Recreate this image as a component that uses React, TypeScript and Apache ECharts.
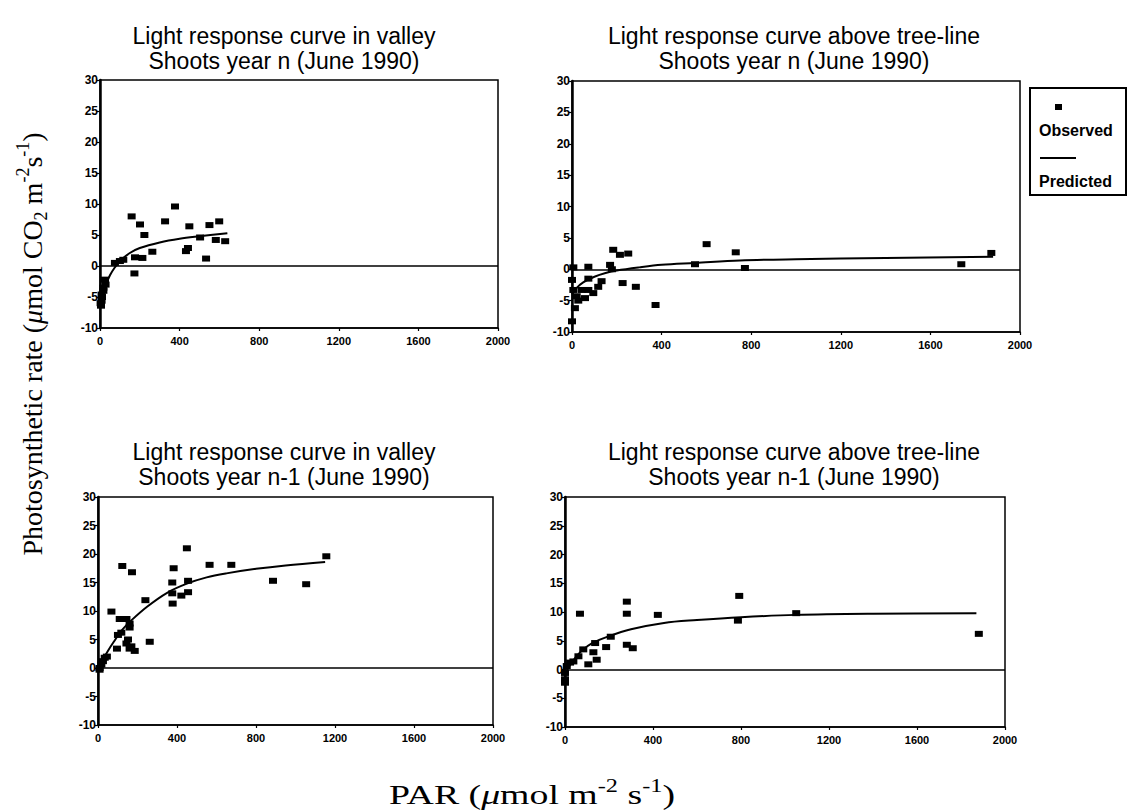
import React, { useEffect, useRef } from "react";
import * as echarts from "echarts";

// ---- Data ----
const xTickValues = [0, 400, 800, 1200, 1600, 2000];
const yTickValues = [-10, -5, 0, 5, 10, 15, 20, 25, 30];

const panelTitles = [
  "Light response curve in valley\nShoots year n (June 1990)",
  "Light response curve above tree-line\nShoots year n (June 1990)",
  "Light response curve in valley\nShoots year n-1 (June 1990)",
  "Light response curve above tree-line\nShoots year n-1 (June 1990)",
];

const valleyN_obs: [number, number][] = [
  [159, 8.0], [201, 6.7], [223, 5.0], [377, 9.6], [327, 7.2], [449, 6.4], [550, 6.6], [599, 7.2],
  [503, 4.6], [582, 4.2], [629, 4.0], [263, 2.3], [432, 2.4], [442, 2.9], [533, 1.2], [176, 1.4],
  [213, 1.3], [173, -1.2], [117, 1.0], [100, 0.8], [75, 0.5], [28, -3.0], [25, -2.2], [17, -3.5],
  [17, -4.0], [8, -4.6], [8, -5.6], [5, -6.4], [10, -5.0], [3, -6.0],
];
const valleyN_pred: [number, number][] = [
  [0, -6.5], [10, -5.0], [25, -3.4], [50, -1.5], [75, -0.2], [100, 0.8], [150, 2.1], [200, 2.9],
  [300, 3.8], [400, 4.4], [500, 4.8], [640, 5.3],
];

const treeN_obs: [number, number][] = [
  [601, 4.0], [731, 2.7], [772, 0.2], [549, 0.8], [1738, 0.8], [1872, 2.6], [184, 3.1], [214, 2.3],
  [251, 2.5], [170, 0.7], [178, 0.0], [73, 0.4], [6, 0.3], [226, -2.2], [285, -2.8], [373, -5.7],
  [0, -1.7], [6, -3.3], [21, -4.3], [43, -3.3], [58, -4.6], [73, -3.3], [73, -1.5], [117, -2.8],
  [132, -1.9], [95, -3.8], [13, -6.2], [0, -8.3], [28, -5.0],
];
const treeN_pred: [number, number][] = [
  [0, -4.0], [20, -3.0], [50, -2.1], [100, -1.2], [150, -0.6], [200, -0.2], [300, 0.3], [400, 0.7],
  [550, 1.0], [750, 1.4], [1000, 1.6], [1400, 1.8], [1880, 2.0],
];

const valleyN1_obs: [number, number][] = [
  [1156, 19.6], [1054, 14.7], [886, 15.3], [675, 18.1], [565, 18.1], [450, 21.0], [383, 17.5],
  [376, 15.0], [376, 13.1], [378, 11.3], [422, 12.7], [456, 13.3], [456, 15.3], [240, 11.9],
  [262, 4.6], [123, 17.9], [172, 16.8], [68, 9.9], [96, 3.4], [110, 8.6], [144, 8.6], [160, 7.8],
  [160, 7.1], [101, 5.8], [118, 6.2], [144, 4.3], [160, 3.4], [186, 3.0], [169, 3.8], [152, 5.0],
  [8, 0.0], [17, 0.6], [25, 1.2], [34, 1.8], [8, -0.3], [45, 2.0],
];
const valleyN1_pred: [number, number][] = [
  [0, -0.3], [25, 1.5], [50, 3.0], [80, 4.6], [120, 6.6], [170, 8.4], [250, 10.8], [350, 13.2],
  [450, 14.8], [550, 15.9], [650, 16.6], [800, 17.4], [950, 18.0], [1150, 18.6],
];

const treeN1_obs: [number, number][] = [
  [68, 9.7], [281, 11.8], [281, 9.7], [422, 9.5], [792, 12.8], [786, 8.5], [1051, 9.8], [1881, 6.2],
  [281, 4.3], [308, 3.7], [208, 5.7], [187, 3.9], [137, 4.6], [129, 3.0], [144, 1.7], [106, 0.9],
  [83, 3.5], [61, 2.3], [38, 1.4], [23, 1.2], [8, 0.6], [0, -0.6], [0, -1.7], [0, -2.3],
];
const treeN1_pred: [number, number][] = [
  [0, -1.0], [20, 0.6], [50, 2.2], [80, 3.4], [120, 4.5], [200, 5.8], [300, 7.0], [450, 8.1],
  [600, 8.6], [800, 9.1], [1050, 9.5], [1400, 9.7], [1870, 9.8],
];

const observedSets = [valleyN_obs, treeN_obs, valleyN1_obs, treeN1_obs];
const predictedSets = [valleyN_pred, treeN_pred, valleyN1_pred, treeN1_pred];

const legendLabels = ["Observed", "Predicted"];
const yAxisTitle = "Photosynthetic rate (μmol CO2 m-2s-1)";
const xAxisTitle = "PAR (μmol m-2 s-1)";

// ---- Layout ----
const gridBoxes = [
  { left: 100, top: 80, width: 398, height: 248 },
  { left: 572, top: 81, width: 448, height: 251 },
  { left: 98, top: 497, width: 395, height: 228 },
  { left: 565, top: 497, width: 440, height: 230 },
];
const titlePos = [
  { x: 284, y: 23 },
  { x: 794, y: 23 },
  { x: 284, y: 439 },
  { x: 794, y: 439 },
];

const SANS = "'Liberation Sans', Arial, Helvetica, sans-serif";
const SERIF = "'Liberation Serif', 'Times New Roman', serif";

export default function App() {
  const ref = useRef<HTMLDivElement>(null);

  useEffect(() => {
    if (!ref.current) return;
    const chart = echarts.init(ref.current, undefined, { renderer: "svg" });

    const xMin = xTickValues[0];
    const xMax = xTickValues[xTickValues.length - 1];
    const yMin = yTickValues[0];
    const yMax = yTickValues[yTickValues.length - 1];

    const grid = gridBoxes.map((g) => ({
      ...g,
      show: true,
      borderColor: "#000",
      borderWidth: 1.5,
      backgroundColor: "transparent",
      containLabel: false,
    }));

    const xAxis = gridBoxes.map((_, i) => ({
      type: "value" as const,
      gridIndex: i,
      min: xMin,
      max: xMax,
      interval: xTickValues[1] - xTickValues[0],
      axisLine: { show: true, onZero: false, lineStyle: { color: "#000", width: 1.5 } },
      axisTick: { show: true, length: 3, lineStyle: { color: "#000", width: 1.2 } },
      splitLine: { show: false },
      axisLabel: {
        color: "#000",
        fontFamily: SANS,
        fontWeight: "bold" as const,
        fontSize: 11,
        margin: 7,
        formatter: (v: number) => String(v),
      },
    }));

    const yAxis = gridBoxes.map((_, i) => ({
      type: "value" as const,
      gridIndex: i,
      min: yMin,
      max: yMax,
      interval: yTickValues[1] - yTickValues[0],
      axisLine: { show: true, onZero: false, lineStyle: { color: "#000", width: 2.5 } },
      axisTick: { show: true, length: 3, lineStyle: { color: "#000", width: 1.2 } },
      splitLine: { show: false },
      axisLabel: {
        color: "#000",
        fontFamily: SANS,
        fontWeight: "bold" as const,
        fontSize: 12,
        margin: 2,
        formatter: (v: number) => String(v),
      },
    }));

    const series: any[] = [];
    observedSets.forEach((data, i) => {
      series.push({
        type: "scatter",
        name: legendLabels[0],
        xAxisIndex: i,
        yAxisIndex: i,
        data,
        symbol: "rect",
        symbolSize: [8, 6],
        itemStyle: { color: "#000", opacity: 1 },
        z: 3,
      });
    });
    predictedSets.forEach((data, i) => {
      series.push({
        type: "line",
        name: legendLabels[1],
        xAxisIndex: i,
        yAxisIndex: i,
        data,
        smooth: 0.35,
        showSymbol: false,
        symbol: "none",
        lineStyle: { color: "#000", width: 2 },
        z: 4,
        markLine: {
          silent: true,
          symbol: ["none", "none"],
          label: { show: false },
          lineStyle: { color: "#000", width: 1.5, type: "solid" },
          data: [{ yAxis: 0 }],
        },
      });
    });

    const title = panelTitles.map((t, i) => ({
      text: t,
      left: titlePos[i].x,
      top: titlePos[i].y,
      textAlign: "center" as const,
      textStyle: {
        fontFamily: SANS,
        fontWeight: "normal" as const,
        fontSize: 23,
        lineHeight: 25,
        color: "#000",
      },
      padding: 0,
    }));

    const richFor = (size: number, supSize: number, lh: number) => ({
      a: { fontFamily: SERIF, fontSize: size, lineHeight: lh, color: "#000" },
      m: { fontFamily: SERIF, fontSize: size, lineHeight: lh, fontStyle: "italic", color: "#000" },
      sup: { fontFamily: SERIF, fontSize: supSize, lineHeight: lh, verticalAlign: "top", color: "#000" },
      sub: { fontFamily: SERIF, fontSize: supSize, lineHeight: lh, verticalAlign: "bottom", color: "#000" },
    });

    const yTitleRich =
      "{a|Photosynthetic rate (}{m|μ}{a|mol CO}{sub|2}{a| m}{sup|-2}{a|s}{sup|-1}{a|)}";
    const xTitleRich = "{a|PAR (}{m|μ}{a|mol m}{sup|-2}{a| s}{sup|-1}{a|)}";

    const graphic: any[] = [
      {
        type: "text",
        x: 32,
        y: 344,
        rotation: Math.PI / 2,
        style: {
          text: yTitleRich,
          rich: richFor(28, 18, 36),
          align: "center",
          verticalAlign: "middle",
        },
        name: yAxisTitle,
      },
      {
        type: "text",
        x: 532,
        y: 794,
        scaleX: 1.35,
        style: {
          text: xTitleRich,
          rich: richFor(28, 18, 34),
          align: "center",
          verticalAlign: "middle",
        },
        name: xAxisTitle,
      },
      // legend box
      {
        type: "rect",
        shape: { x: 1030, y: 88, width: 96, height: 107 },
        style: { fill: "#fff", stroke: "#000", lineWidth: 2 },
        z: 10,
      },
      {
        type: "rect",
        shape: { x: 1055, y: 104, width: 7, height: 6 },
        style: { fill: "#000" },
        z: 11,
      },
      {
        type: "text",
        x: 1039,
        y: 130,
        style: {
          text: legendLabels[0],
          fontFamily: SANS,
          fontWeight: "bold",
          fontSize: 16,
          fill: "#000",
          align: "left",
          verticalAlign: "middle",
        },
        z: 11,
      },
      {
        type: "line",
        shape: { x1: 1040, y1: 158, x2: 1076, y2: 158 },
        style: { stroke: "#000", lineWidth: 2 },
        z: 11,
      },
      {
        type: "text",
        x: 1039,
        y: 181,
        style: {
          text: legendLabels[1],
          fontFamily: SANS,
          fontWeight: "bold",
          fontSize: 16,
          fill: "#000",
          align: "left",
          verticalAlign: "middle",
        },
        z: 11,
      },
    ];

    chart.setOption({
      animation: false,
      backgroundColor: "#fff",
      title,
      grid,
      xAxis,
      yAxis,
      series,
      graphic,
    });

    return () => chart.dispose();
  }, []);

  return (
    <div
      ref={ref}
      style={{ position: "fixed", left: 0, top: 0, width: 1127, height: 811, background: "#fff" }}
    />
  );
}
